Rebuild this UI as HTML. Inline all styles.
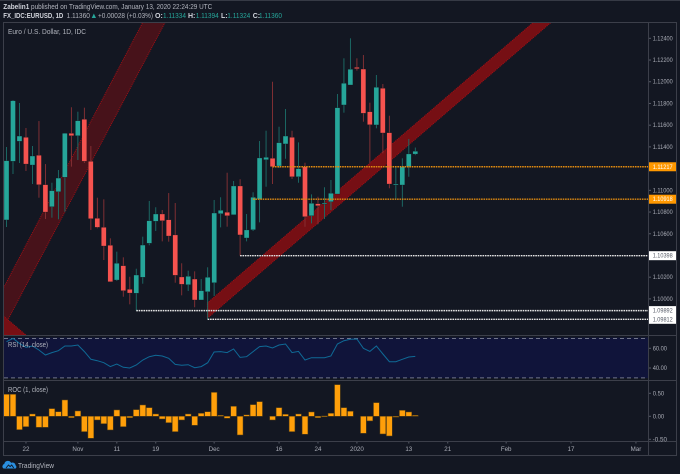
<!DOCTYPE html>
<html lang="en">
<head>
<meta charset="utf-8">
<title>EURUSD chart</title>
<style>
html,body{margin:0;padding:0;background:#131722;width:680px;height:474px;overflow:hidden}
svg{display:block;font-family:"Liberation Sans",sans-serif}
</style>
</head>
<body>
<svg id="chart" xmlns="http://www.w3.org/2000/svg" width="680" height="474" viewBox="0 0 680 474">
  <defs>
    <clipPath id="main-clip"><rect x="4" y="23" width="644" height="312"/></clipPath>
    <clipPath id="rsi-clip"><rect x="4" y="335" width="644" height="45"/></clipPath>
  </defs>
  <rect x="0" y="0" width="680" height="474" fill="#131722"/>
  <rect x="0" y="0" width="680" height="1" fill="#363a45"/>
  <text x="3.3" y="9" font-size="7" fill="#b2b5be" textLength="209" lengthAdjust="spacingAndGlyphs"><tspan font-weight="bold" fill="#d1d4dc">Zabelin1</tspan> published on TradingView.com, January 13, 2020 22:24:29 UTC</text>
  <g font-size="7" fill="#26a69a">
    <text x="3.3" y="18" font-weight="bold" fill="#d1d4dc" textLength="60" lengthAdjust="spacingAndGlyphs">FX_IDC:EURUSD, 1D</text>
    <text x="66.5" y="18" fill="#b2b5be" textLength="23.5" lengthAdjust="spacingAndGlyphs">1.11360</text>
    <polygon points="91.7,18 96,18 93.85,13.5" fill="#26a69a"/>
    <text x="98" y="18" fill="#b2b5be" textLength="55" lengthAdjust="spacingAndGlyphs">+0.00028 (+0.03%)</text>
    <text x="155" y="18" font-weight="bold" fill="#d1d4dc">O:</text>
    <text x="163" y="18" textLength="23" lengthAdjust="spacingAndGlyphs">1.11334</text>
    <text x="188" y="18" font-weight="bold" fill="#d1d4dc">H:</text>
    <text x="195.7" y="18" textLength="23" lengthAdjust="spacingAndGlyphs">1.11394</text>
    <text x="221" y="18" font-weight="bold" fill="#d1d4dc">L:</text>
    <text x="227.3" y="18" textLength="23" lengthAdjust="spacingAndGlyphs">1.11324</text>
    <text x="252.7" y="18" font-weight="bold" fill="#d1d4dc">C:</text>
    <text x="259" y="18" textLength="23" lengthAdjust="spacingAndGlyphs">1.11360</text>
  </g>
  <rect x="4" y="337.5" width="644" height="40.5" fill="#10143a"/>
  <g id="channels" clip-path="url(#main-clip)"></g>
  <g id="candles"></g>
  <g id="levels"></g>
  <g id="rsi" clip-path="url(#rsi-clip)"></g>
  <g id="roc"></g>
  <g fill="#3c3f4a">
    <rect x="3" y="22" width="674" height="1"/>
    <rect x="3" y="22" width="1" height="433"/>
    <rect x="676" y="22" width="1" height="433"/>
    <rect x="3" y="455" width="674" height="1"/>
    <rect x="648" y="22" width="1" height="433"/>
    <rect x="3" y="335" width="674" height="1"/>
    <rect x="3" y="380" width="674" height="1"/>
    <rect x="3" y="441" width="674" height="1"/>
  </g>
  <g id="axes"></g>
  <text x="8" y="34" font-size="7" fill="#b2b5be" textLength="78" lengthAdjust="spacingAndGlyphs">Euro / U.S. Dollar, 1D, IDC</text>
  <text x="8" y="347" font-size="7" fill="#b2b5be" textLength="40" lengthAdjust="spacingAndGlyphs">RSI (14, close)</text>
  <text x="8" y="392" font-size="7" fill="#b2b5be" textLength="40" lengthAdjust="spacingAndGlyphs">ROC (1, close)</text>
  <g>
    <path d="M3.5 468.5 a2.6 2.6 0 0 1 0.8 -4.6 a3.6 3.6 0 0 1 6.8 -1 a3 3 0 0 1 4.4 2.4 a2 2 0 0 1 0.2 3.2 z" fill="#2a8fe0"/>
    <path d="M6 468 l2.5 -3 l1.6 1.6 l1.6 -1.6 l2 3" fill="none" stroke="#131722" stroke-width="0.9"/>
    <text x="18" y="468" font-size="7.5" fill="#b2b5be" textLength="36" lengthAdjust="spacingAndGlyphs">TradingView</text>
  </g>
</svg>
<script>
// OHLC, one entry per daily bar
const opens = [1.10727,1.11267,1.11451,1.11488,1.11233,1.11323,1.11052,1.10849,1.10987,1.11120,1.11525,1.11503,1.11654,1.11267,1.10742,1.10659,
  1.10494,1.10174,1.10306,1.10088,1.10052,1.10199,1.10512,1.10715,1.10782,1.10729,1.10589,1.10202,1.10131,1.10183,1.09990,1.10066,
  1.10149,1.10785,1.10798,1.10775,1.11040,1.10561,1.10637,1.10917,1.11282,1.11295,1.11224,1.11427,1.11488,1.11125,1.11218,1.10766,
  1.10877,1.10877,1.10895,1.10966,1.11786,1.11970,1.12133,1.12117,1.11724,1.11602,1.11940,1.11531,1.11049,1.11049,1.11218,1.11334];
const highs = [1.11399,1.11832,1.11804,1.11574,1.11408,1.11638,1.11242,1.11070,1.11187,1.11528,1.11765,1.11724,1.11761,1.11408,1.10932,1.10917,
  1.10558,1.10435,1.10383,1.10204,1.10278,1.10573,1.10902,1.10844,1.10819,1.10975,1.10883,1.10328,1.10260,1.10254,1.10183,1.10291,
  1.10911,1.10936,1.11162,1.11086,1.11102,1.10782,1.10982,1.11454,1.11549,1.12000,1.11586,1.11749,1.11549,1.11442,1.11254,1.10963,
  1.10941,1.11028,1.11095,1.11887,1.12216,1.12400,1.12216,1.12246,1.11807,1.12062,1.11979,1.11687,1.11218,1.11295,1.11473,1.11394];
const lows = [1.10662,1.11150,1.11252,1.11178,1.11058,1.10932,1.10736,1.10748,1.10733,1.10803,1.11218,1.11279,1.11252,1.10635,1.10650,1.10358,
  1.10156,1.10165,1.10020,1.09950,1.09892,1.10140,1.10494,1.10625,1.10530,1.10527,1.10149,1.10033,1.10073,1.09923,1.09990,1.09812,
  1.10027,1.10659,1.10665,1.10775,1.10398,1.10530,1.10625,1.10705,1.11033,1.11058,1.11206,1.11291,1.11104,1.11070,1.10665,1.10696,
  1.10687,1.10736,1.10819,1.10966,1.11715,1.11970,1.12102,1.11632,1.11249,1.11571,1.11341,1.11019,1.10917,1.10849,1.11125,1.11324];
const closes = [1.11273,1.11825,1.11500,1.11242,1.11316,1.11052,1.10800,1.10997,1.11113,1.11525,1.11503,1.11641,1.11267,1.10739,1.10659,1.10487,
  1.10158,1.10328,1.10076,1.10054,1.10220,1.10496,1.10720,1.10782,1.10720,1.10579,1.10217,1.10134,1.10208,1.09990,1.10076,1.10199,
  1.10791,1.10816,1.10766,1.11040,1.10589,1.10635,1.10936,1.11298,1.11304,1.11218,1.11439,1.11500,1.11125,1.11199,1.10757,1.10880,
  1.10858,1.10883,1.10973,1.11761,1.11986,1.12115,1.12120,1.11709,1.11604,1.11949,1.11528,1.11058,1.11058,1.11218,1.11335,1.11360];
const rsiValues = [66.7,70.1,65,61,62.3,58.3,53.2,55.6,57.6,62.3,62.3,63.4,56.6,48.8,47.4,45.4,41.4,44.1,40.7,40,43,48.1,51.5,52.9,52.2,49.8,
  43.7,42.7,43.4,40.3,41.4,45.4,56.2,56.6,55.6,59.3,50.8,51.5,56.6,61.7,62.3,60.3,63.4,64.4,55.6,56.9,48.1,50.5,50.5,50.5,52.2,64.4,
  67.7,69.1,69.4,60,56.9,62.3,54.2,46.4,46.4,48.8,51.2,51.8];
const rocValues = [0.478,0.478,-0.29,-0.225,0.05,-0.24,-0.24,0.167,0.10,0.355,-0.03,0.116,-0.333,-0.478,-0.08,-0.16,-0.297,0.138,-0.225,-0.03,
  0.145,0.246,0.188,0.05,-0.058,-0.138,-0.333,-0.08,0.05,-0.196,0.065,0.10,0.52,0.02,-0.043,0.217,-0.406,0.03,0.254,0.319,0,-0.08,0.188,0.043,
  -0.333,0.05,-0.39,0.094,-0.03,0.007,0.065,0.688,0.188,0.109,0,-0.37,-0.10,0.297,-0.384,-0.428,-0.007,0.13,0.094,0.02];
const priceTicks = [1.124,1.122,1.12,1.118,1.116,1.114,1.11,1.108,1.106,1.102,1.1];
const rsiTicks = [60,40];
const rocTicks = [0.5,0,-0.5];
const timeLabels = ['22','Nov','11','19','Dec','16','24','2020','13','21','Feb','17','Mar'];
const timeBars = [3,11,17,23,32,42,48,54,62,68,77,87,97];
const levelPrices = [1.11217,1.10918,1.10398,1.09892,1.09812];
const levelStartBars = [41,38,36,20,31];
const levelKinds = ['orange','orange','white','white','white'];
const channelFaintBars = [-0.46,20.99,24.43,-0.46];
const channelFaintPrices = [1.1010,1.12546,1.12546,1.09732];
const channelStrongBars = [30.94,81.18,83.9,30.94];
const channelStrongPrices = [1.09962,1.12546,1.12546,1.09821];
const channelCornerBars = [-0.46,3.0,-0.46];
const channelCornerPrices = [1.09842,1.09667,1.09667];

const NS = 'http://www.w3.org/2000/svg';
const x = b => 6.5 + b * 6.489;
const yP = p => 298.9 - (p - 1.1) * 10858;
const yR = v => 368 - (v - 40) * 0.985;
const yO = v => 416.3 - v * 46;
function mk(parent, tag, attrs, txt) {
  const el = document.createElementNS(NS, tag);
  for (const k in attrs) el.setAttribute(k, attrs[k]);
  if (txt !== undefined) el.textContent = txt;
  document.getElementById(parent).appendChild(el);
  return el;
}
function pts(bars, prices) {
  return bars.map((b, i) => x(b).toFixed(1) + ',' + yP(prices[i]).toFixed(1)).join(' ');
}

let el;
el = mk('channels', 'polygon', {points: pts(channelFaintBars, channelFaintPrices), fill: '#47121a', stroke: '#a30f14', 'stroke-width': 1, 'stroke-dasharray': '1 1'});


el = mk('channels', 'polygon', {points: pts(channelCornerBars, channelCornerPrices), fill: '#760f14', stroke: '#a30f14', 'stroke-width': 1, 'stroke-dasharray': '1 1'});


el = mk('channels', 'polygon', {points: pts(channelStrongBars, channelStrongPrices), fill: '#760f14', stroke: '#a30f14', 'stroke-width': 1, 'stroke-dasharray': '1 1'});



opens.forEach((o, i) => {
  const c = closes[i], up = c >= o;
  const wick = up ? '#1c6f6a' : '#8a3236';
  el = mk('candles', 'line', {x1: x(i), x2: x(i), y1: yP(highs[i]), y2: yP(lows[i]), stroke: wick, 'stroke-width': 0.9});
  
  
  const top = yP(Math.max(o, c)), bot = yP(Math.min(o, c));
  el = mk('candles', 'rect', {x: x(i) - 2.5, y: top, width: 5, height: Math.max(bot - top, 1), fill: up ? '#26a69a' : '#f6534f', stroke: '#10141d', 'stroke-width': 0.3});
  
  
});

levelPrices.forEach((p, i) => {
  const orange = levelKinds[i] === 'orange';
  el = mk('levels', 'line', {x1: x(levelStartBars[i]), x2: 648, y1: yP(p), y2: yP(p), stroke: orange ? '#e08a10' : '#e6e6e6', 'stroke-width': 1.4, 'stroke-dasharray': '1.6 0.8'});
  
  
  el = mk('levels', 'rect', {x: 648.5, y: yP(p) - 4.5, width: 28, height: 9, fill: orange ? '#ff9800' : '#ffffff'});
  
  
  el = mk('levels', 'text', {x: 652.7, y: yP(p) + 2, 'font-size': 6, fill: orange ? '#ffffff' : '#555a66', textLength: 20, lengthAdjust: 'spacingAndGlyphs'}, p.toFixed(5));
  
  
});

[70, 30].forEach(v => {
  el = mk('rsi', 'line', {x1: 4, x2: 648, y1: yR(v), y2: yR(v), stroke: '#70758a', 'stroke-width': 1, 'stroke-dasharray': '4 3'});
  
  
});
el = mk('rsi', 'polyline', {points: rsiValues.map((v, i) => x(i).toFixed(1) + ',' + yR(v).toFixed(1)).join(' '), fill: 'none', stroke: '#0f6a96', 'stroke-width': 1});



rocValues.forEach((v, i) => {
  if (v === 0) return;
  const t = Math.min(yO(v), yO(0)), h = Math.max(Math.abs(v) * 46, 0.8);
  el = mk('roc', 'rect', {x: x(i) - 2.9, y: t, width: 5.8, height: h, fill: '#ff9f0a', stroke: '#5a4214', 'stroke-width': 0.5});
  
  
});

const tickColor = '#a9acb6';
function yTick(yv, label) {
  el = mk('axes', 'line', {x1: 649, x2: 651, y1: yv, y2: yv, stroke: '#555a66', 'stroke-width': 1});
  
  
  el = mk('axes', 'text', {x: 652.7, y: yv + 2, 'font-size': 6, fill: tickColor, textLength: label.length * 2.86, lengthAdjust: 'spacingAndGlyphs'}, label);
  
  
}
priceTicks.forEach(p => yTick(yP(p), p.toFixed(5)));
rsiTicks.forEach(v => yTick(yR(v), v.toFixed(2)));
rocTicks.forEach(v => yTick(yO(v), v.toFixed(2)));

timeLabels.forEach((t, i) => {
  const b = x(timeBars[i]);
  el = mk('axes', 'line', {x1: b, x2: b, y1: 442, y2: 443.5, stroke: '#555a66', 'stroke-width': 1});
  
  
  el = mk('axes', 'text', {x: b, y: 451, 'font-size': 6.2, fill: tickColor, 'text-anchor': 'middle'}, t);
  
  
});
</script>
</body>
</html>
